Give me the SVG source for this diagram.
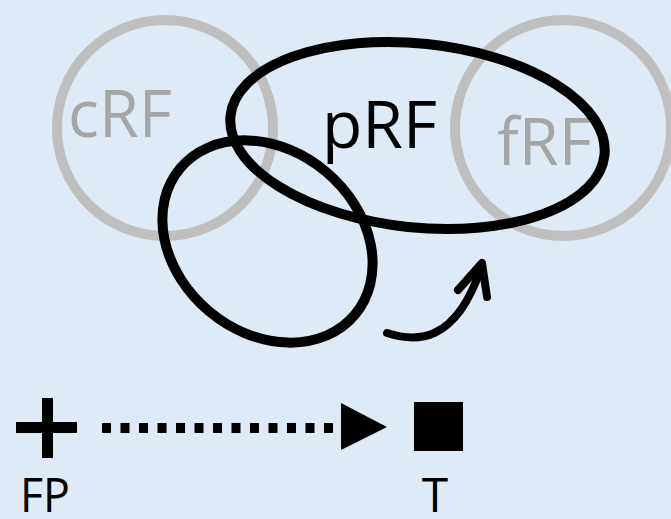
<svg xmlns="http://www.w3.org/2000/svg" width="671" height="519" viewBox="0 0 671 519">
<style>
.gray{fill:none;stroke:#bfbfbf;stroke-width:10}
.blk{fill:none;stroke:#000;stroke-width:10}
.lbl{font-family:"Open Sans","Liberation Sans",sans-serif;font-size:65px}
.small{font-family:"Open Sans","Liberation Sans",sans-serif;font-size:48px;fill:#000}
</style>
<rect width="671" height="519" fill="#deebf7"/>
<g id="cRF">
<circle class="gray" cx="165" cy="128" r="108"/>
<text class="lbl" x="68" y="137" fill="#a6a6a6" textLength="104" lengthAdjust="spacingAndGlyphs">cRF</text>
</g>
<g id="fRF">
<circle class="gray" cx="563" cy="128" r="108"/>
<text class="lbl" x="497" y="165" fill="#a6a6a6" textLength="95" lengthAdjust="spacingAndGlyphs">fRF</text>
</g>
<g id="pRF">
<ellipse class="blk" cx="417.5" cy="135.5" rx="188" ry="92" transform="rotate(6 417.5 135.5)"/>
<text class="lbl" x="322" y="148" fill="#000" textLength="115" lengthAdjust="spacingAndGlyphs">pRF</text>
</g>
<g id="lowerRF">
<ellipse class="blk" cx="267.5" cy="241.5" rx="114" ry="91" transform="rotate(40 267.5 241.5)"/>
</g>
<g id="FP">
<rect x="16" y="422" width="61" height="11" fill="#000"/>
<rect x="42" y="398" width="11" height="60" fill="#000"/>
<text class="small" x="20" y="512" textLength="50" lengthAdjust="spacingAndGlyphs">FP</text>
</g>
<g id="T">
<rect x="414" y="402" width="49" height="49" fill="#000"/>
<text class="small" x="435" y="512" text-anchor="middle">T</text>
</g>
<g id="connectors">
<path d="M387,333 C415,342 455,345 481,268" fill="none" stroke="#000" stroke-width="8" stroke-linecap="round"/>
<path d="M458,290 L482,263 L487,297" fill="none" stroke="#000" stroke-width="8" stroke-linecap="round" stroke-linejoin="round"/>
<line x1="102" y1="428" x2="335" y2="428" stroke="#000" stroke-width="10" stroke-dasharray="9 9.5"/>
<polygon points="341,403 387,427 341,450" fill="#000"/>
</g>
</svg>
